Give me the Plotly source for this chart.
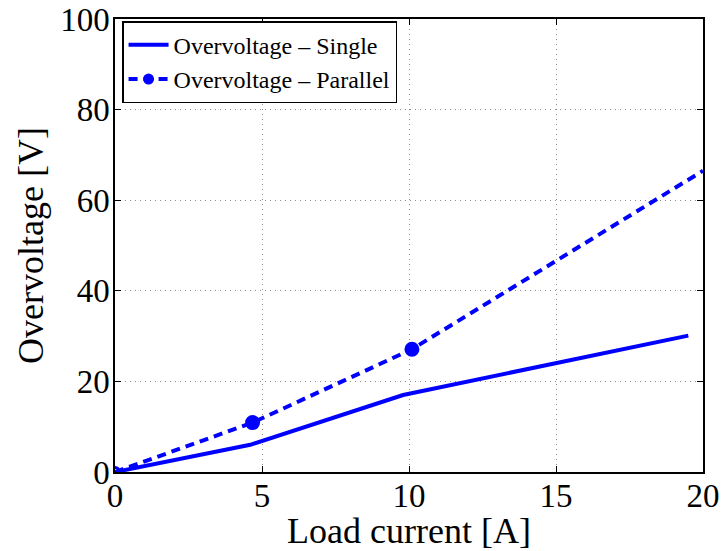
import plotly.graph_objects as go

# Data
single_x = [0, 4.6, 9.8, 19.5]
single_y = [0, 6.0, 17.0, 30.1]

parallel_x = [0, 4.68, 10.1, 20.0]
parallel_y = [0, 10.9, 27.1, 66.5]
parallel_marker_x = [0, 4.68, 10.1]
parallel_marker_y = [0, 10.9, 27.1]

x_ticks = [0, 5, 10, 15, 20]
y_ticks = [0, 20, 40, 60, 80, 100]

BLUE = "#0000FF"
FONT = "Liberation Serif"

fig = go.Figure()

fig.add_trace(go.Scatter(
    x=single_x, y=single_y, mode="lines",
    line=dict(color=BLUE, width=4),
    name="Overvoltage – Single",
))
fig.add_trace(go.Scatter(
    x=parallel_x, y=parallel_y, mode="lines",
    line=dict(color=BLUE, width=4, dash="9px,6px"),
    showlegend=False,
))
fig.add_trace(go.Scatter(
    x=parallel_marker_x, y=parallel_marker_y, mode="markers",
    marker=dict(color=BLUE, size=[9, 12, 12], opacity=1,
                symbol=["circle-open", "circle", "circle"],
                line=dict(color=BLUE, width=3)),
    showlegend=False,
))
fig.add_trace(go.Scatter(
    x=[None], y=[None], mode="lines+markers",
    line=dict(color=BLUE, width=4, dash="9px,6px"),
    marker=dict(color=BLUE, size=11, opacity=1),
    name="Overvoltage – Parallel",
))

axis_common = dict(
    automargin=False,
    showline=True, linecolor="black", linewidth=1.5, mirror="ticks",
    ticks="inside", ticklen=6, tickcolor="black", tickwidth=1,
    showgrid=True, gridcolor="#8c8c8c", griddash="1px,4px", gridwidth=1,
    zeroline=False,
    tickfont=dict(family=FONT, size=33, color="black"),
)

fig.update_xaxes(
    range=[0, 20], tickvals=x_ticks, ticktext=[str(v) for v in x_ticks],
    title=dict(text="Load current [A]", font=dict(family=FONT, size=36, color="black"), standoff=0),
    ticklabelstandoff=-6,
    **axis_common,
)
fig.update_yaxes(
    range=[0, 100], tickvals=y_ticks, ticktext=[str(v) for v in y_ticks],
    title=dict(text="Overvoltage [V]", font=dict(family=FONT, size=36, color="black"), standoff=6),
    ticklabelstandoff=-3,
    **axis_common,
)

fig.update_layout(
    width=722, height=551,
    margin=dict(l=115, r=19, t=19, b=79),
    paper_bgcolor="white", plot_bgcolor="white",
    showlegend=True,
    legend=dict(
        x=0.012, y=0.995, xanchor="left", yanchor="top",
        bgcolor="white", bordercolor="black", borderwidth=1.5,
        font=dict(family=FONT, size=24, color="black"),
        tracegroupgap=0, itemwidth=40,
    ),
)

fig.write_html("out.html")
